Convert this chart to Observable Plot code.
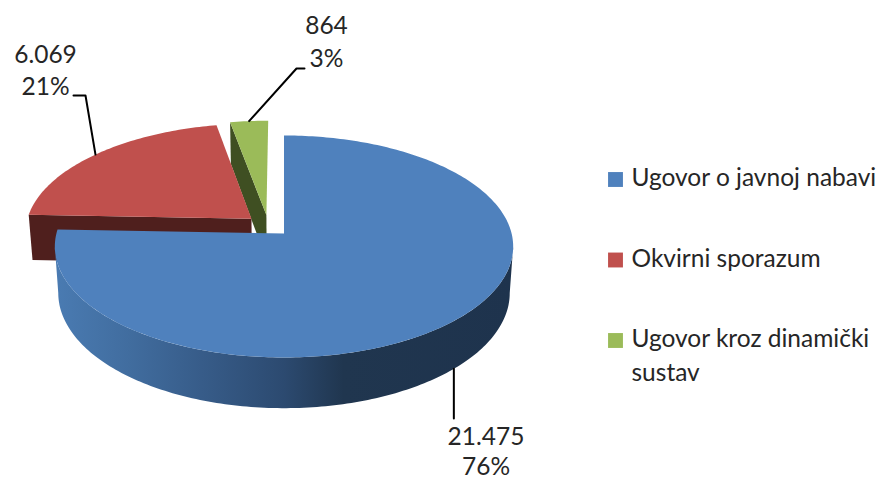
<!DOCTYPE html>
<html>
<head>
<meta charset="utf-8">
<script src="https://cdn.jsdelivr.net/npm/d3@7"></script>
<script src="https://cdn.jsdelivr.net/npm/@observablehq/plot@0.6"></script>
<style>html,body{margin:0;padding:0;background:#fff}svg{display:block}</style>
</head>
<body>
<div id="chart"></div>
<script>
// ---- data
const categories = ["Ugovor o javnoj nabavi", "Okvirni sporazum", "Ugovor kroz dinamički sustav"];
const values = [21475, 6069, 864];
const valueLabels = ["21.475", "6.069", "864"];
const percentLabels = ["76%", "21%", "3%"];

// ---- styles
const topColors = ["#4f81bd", "#c0504d", "#9bbb59"];
const faceColors = [null, "#4f1f1d", "#3f4f22"];
const textColor = "#262626";
const fontFamily = "Lato, 'Open Sans', sans-serif";

// ---- perspective layout of the pie (pixels)
const view = {cx: 283.5, topY: 233, botY: 279, rx: 227.6, slant: 82.2, persp: 0.117, botScale: 0.985};
const explode = 0.1;
const rad = d => d * Math.PI / 180;
const total = d3.sum(values);
let acc = 0;
const slices = values.map((v, i) => {
  const start = acc / total * 360; acc += v;
  const end = acc / total * 360;
  return {i, start, end, mid: (start + end) / 2};
});
const dir = a => [Math.sin(rad(a)), Math.cos(rad(a))];
const base = dir(slices[0].mid);
slices.forEach(s => {
  const d = dir(s.mid);
  s.ou = explode * (d[0] - base[0]);
  s.ov = explode * (d[1] - base[1]);
});
const project = (u, v, bottom) => {
  const w = 1 + view.persp * v;
  const s = bottom ? view.botScale : 1;
  const Y = bottom ? view.botY : view.topY;
  return {x: view.cx + s * view.rx * u / w, y: (Y - s * view.slant * v) / w};
};
const arcPt = (s, a, bottom) => {
  const d = dir(a);
  return project(s.ou + d[0], s.ov + d[1], bottom);
};
const apex = (s, bottom) => project(s.ou, s.ov, bottom);
const sweep = (a0, a1) => {
  const n = Math.ceil(Math.abs(a1 - a0));
  return d3.range(n + 1).map(k => a0 + (a1 - a0) * k / n);
};
const topShape = s => [apex(s, false), ...sweep(s.start, s.end).map(a => arcPt(s, a, false))];
const cutFace = (s, a) => [apex(s, false), arcPt(s, a, false), arcPt(s, a, true), apex(s, true)];
const sideShape = (s, a0, a1) => [
  ...sweep(a0, a1).map(a => arcPt(s, a, false)),
  ...sweep(a1, a0).map(a => arcPt(s, a, true))
];
const poly = (pts, fill) => Plot.line(pts, {x: "x", y: "y", fill, stroke: "none", curve: "linear"});

const gradient = () => {
  const ns = "http://www.w3.org/2000/svg";
  const defs = document.createElementNS(ns, "defs");
  const g = document.createElementNS(ns, "linearGradient");
  g.setAttribute("id", "blueSide");
  g.setAttribute("x1", "0"); g.setAttribute("x2", "1");
  g.setAttribute("y1", "0"); g.setAttribute("y2", "0");
  [[0, "#4a7bb2"], [0.16, "#416d9f"], [0.32, "#375c89"], [0.5, "#2c4a70"], [0.63, "#20364f"], [1, "#1e334d"]]
    .forEach(([o, c]) => {
      const st = document.createElementNS(ns, "stop");
      st.setAttribute("offset", o); st.setAttribute("stop-color", c);
      g.appendChild(st);
    });
  defs.appendChild(g);
  return defs;
};

// ---- the rim is visible between the two points where the ellipse is widest
const rimRight = Math.acos(-view.persp) * 180 / Math.PI;
const rimLeft = 360 - rimRight;

// ---- leader lines start on the slices' own rims
const [blue, red, green] = slices;
const blueStart = arcPt(blue, blue.mid, true);
const redStart = arcPt(red, red.mid, false);
const greenStart = arcPt(green, green.mid, false);
const leaders = [
  [blueStart, {x: blueStart.x, y: 418}],
  [redStart, {x: 85, y: 95}, {x: 73, y: 95}],
  [greenStart, {x: 296, y: 68}, {x: 304, y: 68}]
];

// ---- label layout
const labelRows = [
  {x: 485.5, y: 445, t: valueLabels[0]}, {x: 485.5, y: 475, t: percentLabels[0]},
  {x: 45, y: 63, t: valueLabels[1]}, {x: 45, y: 95, t: percentLabels[1]},
  {x: 326, y: 34, t: valueLabels[2]}, {x: 326, y: 67, t: percentLabels[2]}
];
const legendRows = [
  {y: 186, t: categories[0]},
  {y: 267, t: categories[1]},
  {y: 347, t: "Ugovor kroz dinamički"},
  {y: 381, t: "sustav"}
];
const swatches = [
  {y: 179, c: topColors[0]}, {y: 259.5, c: topColors[1]}, {y: 340, c: topColors[2]}
];

const plot = Plot.plot({
  width: 884, height: 479,
  margin: 0,
  x: {domain: [0, 884], range: [0, 884], axis: null},
  y: {domain: [0, 479], range: [0, 479], axis: null},
  style: {background: "#fff", fontFamily},
  marks: [
    gradient,
    poly(cutFace(green, green.start), faceColors[2]),
    poly(topShape(green), topColors[2]),
    poly(cutFace(red, red.start), faceColors[1]),
    poly(topShape(red), topColors[1]),
    poly(sideShape(blue, rimRight, rimLeft), "url(#blueSide)"),
    poly(topShape(blue), topColors[0]),
    ...leaders.map(l => Plot.line(l, {x: "x", y: "y", stroke: "#000", strokeWidth: 2, curve: "linear"})),
    Plot.text(labelRows, {x: "x", y: "y", text: "t", textAnchor: "middle", lineAnchor: "bottom", fontSize: 24.5, fill: textColor, dy: -0.5}),
    Plot.dot(swatches, {x: 615, y: "y", symbol: "square", r: 8.4, fill: "c", stroke: "none"}),
    Plot.text(legendRows, {x: 631, y: "y", text: "t", textAnchor: "start", lineAnchor: "bottom", fontSize: 24.5, fill: textColor, dy: -0.5})
  ]
});
document.getElementById("chart").appendChild(plot);
</script>
</body>
</html>
